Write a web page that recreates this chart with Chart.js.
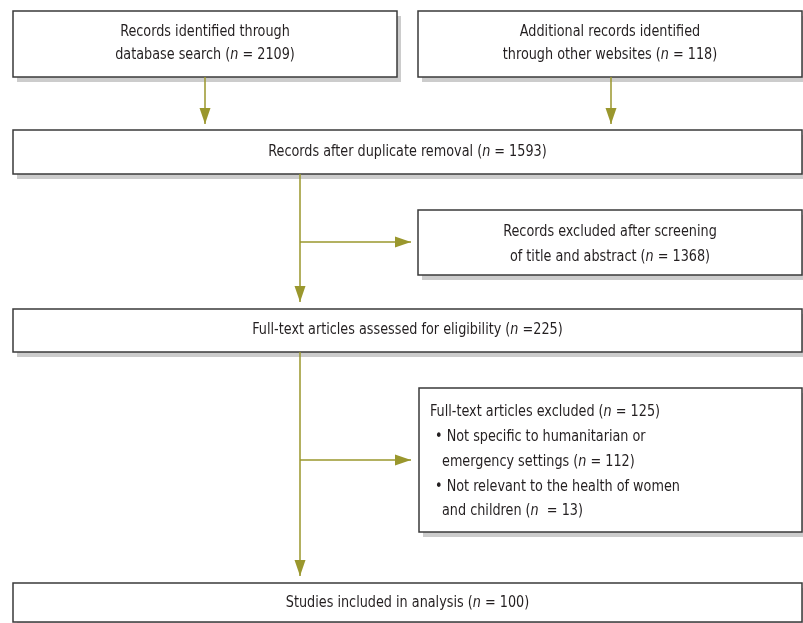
<!DOCTYPE html>
<html>
<head>
<meta charset="utf-8">
<script src="https://cdn.jsdelivr.net/npm/chart.js@4.4.1/dist/chart.umd.min.js"></script>
<style>
  html, body { margin: 0; padding: 0; background: #fff; }
  #wrap { width: 803px; height: 623px; }
</style>
</head>
<body>
<div id="wrap"><canvas id="flow"></canvas></div>
<script>
// box corners in diagram units (x right, y down)
const boxLeft   = [13, 418, 13, 418, 13, 419, 13];
const boxTop    = [11, 11, 130, 210, 309, 388, 583];
const boxRight  = [397, 802, 802, 802, 802, 802, 802];
const boxBottom = [77, 77, 174, 275, 352, 532, 622];

// text lines; *n* = italic n
const boxLines = [
    ["Records identified through", "database search (*n* = 2109)"],
    ["Additional records identified", "through other websites (*n* = 118)"],
    ["Records after duplicate removal (*n* = 1593)"],
    ["Records excluded after screening", "of title and abstract (*n* = 1368)"],
    ["Full-text articles assessed for eligibility (*n* =225)"],
    ["Full-text articles excluded (*n* = 125)", "\u2022 Not specific to humanitarian or", "emergency settings (*n* = 112)",
     "\u2022 Not relevant to the health of women", "and children (*n*  = 13)"],
    ["Studies included in analysis (*n* = 100)"]
];
const lineY = [
    [32, 55], [32, 55], [152], [232, 257], [330], [412, 437, 462, 487, 511], [603]
];
const lineX = [null, null, null, null, null, [430, 435, 442, 435, 442], null];

// connectors: from (x1,y1) to (x2,y2), arrowhead at the end
const arrowX1 = [205, 611, 300, 300, 300, 300];
const arrowY1 = [77, 77, 174, 242, 352, 460];
const arrowX2 = [205, 611, 300, 411, 300, 411];
const arrowY2 = [124, 124, 302, 242, 576, 460];

const olive = "#9a972d";
const fontName = "'Liberation Sans Narrow', 'DejaVu Sans Condensed', sans-serif";
const squeeze = 0.89; // the original face is a condensed one

const lineSets = arrowX1.map((x, i) => ({
    data: [{ x: x, y: arrowY1[i] }, { x: arrowX2[i], y: arrowY2[i] }],
    showLine: true,
    borderColor: olive,
    borderWidth: 1.5,
    pointRadius: 0
}));

function drawRuns(ctx, text, x, y, align) {
    const parts = text.split("*");
    const widths = parts.map((p, k) => {
        ctx.font = (k % 2 ? "italic " : "") + "16px " + fontName;
        return ctx.measureText(p).width * squeeze;
    });
    const total = widths.reduce((a, b) => a + b, 0);
    let cx = align === "left" ? x : x - total / 2;
    parts.forEach((p, k) => {
        ctx.font = (k % 2 ? "italic " : "") + "16px " + fontName;
        ctx.save();
        ctx.translate(cx, y);
        ctx.scale(squeeze, 1);
        ctx.fillText(p, 0, 0);
        ctx.restore();
        cx += widths[k];
    });
}

const flowPlugin = {
    id: "flowBoxes",
    beforeDatasetsDraw(chart) {
        const ctx = chart.ctx;
        const sx = chart.scales.x, sy = chart.scales.y;
        ctx.save();
        boxLeft.forEach((l, i) => {
            const x1 = sx.getPixelForValue(l), x2 = sx.getPixelForValue(boxRight[i]);
            const y1 = sy.getPixelForValue(boxTop[i]), y2 = sy.getPixelForValue(boxBottom[i]);
            // shadow
            ctx.fillStyle = "#cccccc";
            ctx.fillRect(x1 + 4, y1 + 5, x2 - x1, y2 - y1);
            ctx.fillStyle = "#fff";
            ctx.fillRect(x1, y1, x2 - x1, y2 - y1);
            ctx.strokeStyle = "#3a3a3a";
            ctx.lineWidth = 1.5;
            ctx.strokeRect(x1, y1, x2 - x1, y2 - y1);
            // text
            ctx.fillStyle = "#231f20";
            ctx.textBaseline = "middle";
            ctx.textAlign = "left";
            boxLines[i].forEach((t, j) => {
                const y = sy.getPixelForValue(lineY[i][j]);
                if (lineX[i]) {
                    drawRuns(ctx, t, sx.getPixelForValue(lineX[i][j]), y, "left");
                } else {
                    drawRuns(ctx, t, (x1 + x2) / 2, y, "center");
                }
            });
        });
        ctx.restore();
    },
    afterDatasetsDraw(chart) {
        const ctx = chart.ctx;
        const sx = chart.scales.x, sy = chart.scales.y;
        ctx.save();
        ctx.fillStyle = olive;
        arrowX2.forEach((x, i) => {
            const tx = sx.getPixelForValue(x), ty = sy.getPixelForValue(arrowY2[i]);
            const fx = sx.getPixelForValue(arrowX1[i]), fy = sy.getPixelForValue(arrowY1[i]);
            const ang = Math.atan2(ty - fy, tx - fx);
            const len = 16, half = 5.5;
            ctx.save();
            ctx.translate(tx, ty);
            ctx.rotate(ang);
            ctx.beginPath();
            ctx.moveTo(0, 0);
            ctx.lineTo(-len, -half);
            ctx.lineTo(-len, half);
            ctx.closePath();
            ctx.fill();
            ctx.restore();
        });
        ctx.restore();
    }
};

new Chart(document.getElementById("flow"), {
    type: "scatter",
    data: { datasets: lineSets },
    options: {
        responsive: true,
        maintainAspectRatio: false,
        animation: false,
        layout: { padding: 0 },
        plugins: { legend: { display: false }, tooltip: { enabled: false } },
        scales: {
            x: { type: "linear", min: 0, max: 803, display: false },
            y: { type: "linear", min: 0, max: 623, reverse: true, display: false }
        }
    },
    plugins: [flowPlugin]
});
</script>
</body>
</html>
